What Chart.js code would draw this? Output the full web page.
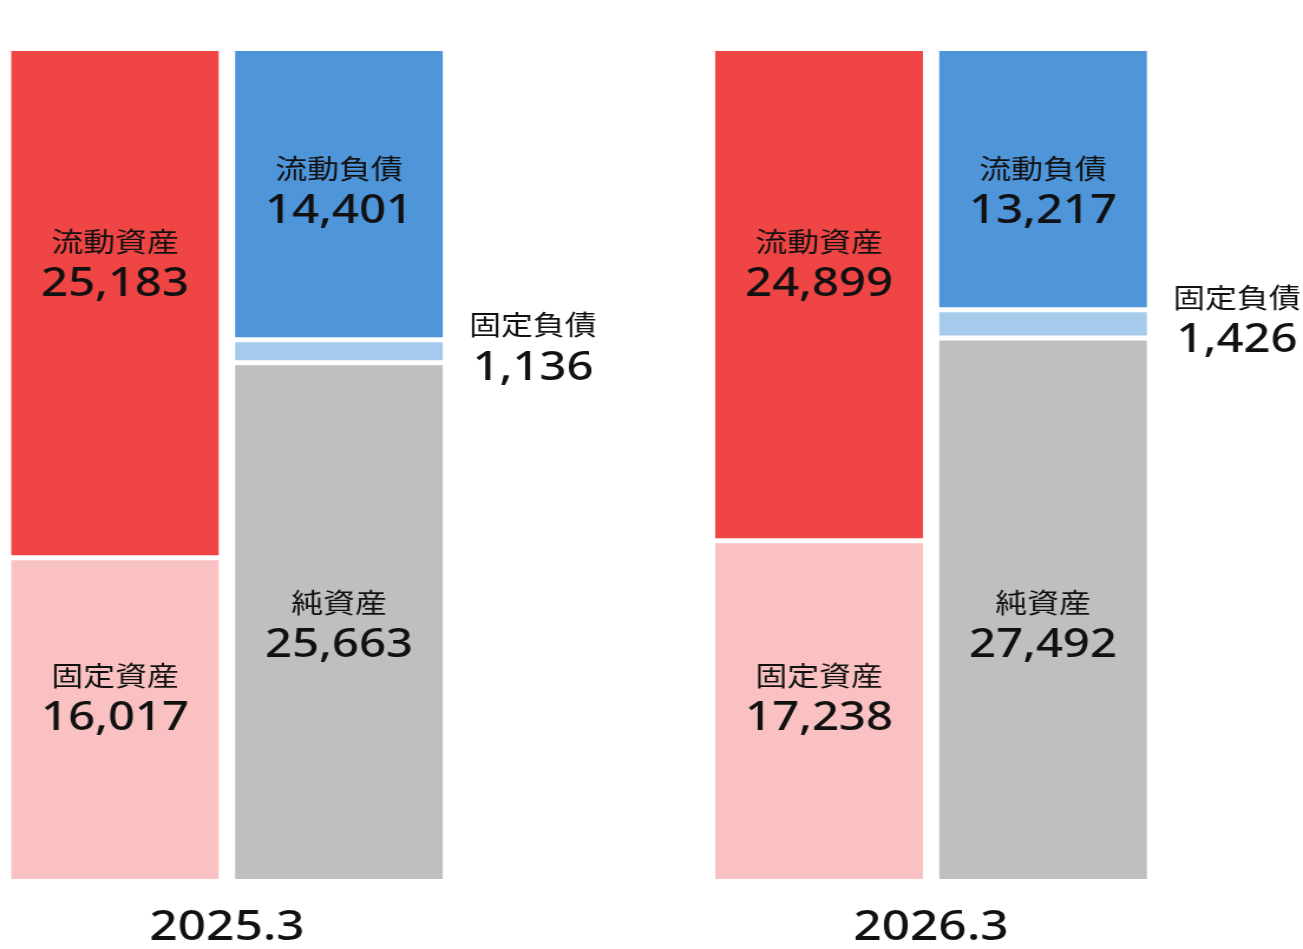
<!DOCTYPE html>
<html>
<head>
<meta charset="utf-8">
<title>貸借対照表</title>
<script src="https://cdn.jsdelivr.net/npm/chart.js"></script>
<style>
  html, body { margin: 0; padding: 0; background: #fff; overflow: hidden; }
</style>
</head>
<body>
<canvas id="bs" width="1104" height="974" style="display:block;width:1303px;height:974px"></canvas>
<script>
/*******************************************************/
/* datos (百万円) */
var periodos = ['2025.3', '2026.3'];

var activo_corriente = [25183, 24899];   // 流動資産
var activo_fijo = [16017, 17238];        // 固定資産
var pasivo_corriente = [14401, 13217];   // 流動負債
var pasivo_fijo = [1136, 1426];          // 固定負債
var patrimonio = [25663, 27492];         // 純資産

/*******************************************************/
// el grafico original esta estirado en horizontal
var estirar = 1303 / 1104;

var colores = {
	activo_corriente: '#F04545',
	activo_fijo: '#F9C1C1',
	pasivo_corriente: '#4F95D9',
	pasivo_fijo: '#A6CAEC',
	patrimonio: '#BFBFBF'
};

var fuente_numero = '500 40px "Noto Sans", "Noto Sans CJK JP", sans-serif';
var fuente_nombre = '27px "Noto Sans CJK JP", sans-serif';

// cada columna se dibuja al 100%
function porcentaje(serie, totales) {
	return serie.map(function (v, i) {
		return { x: i, y: v / totales[i] * 100, valor: v };
	});
}

var total_activo = periodos.map(function (p, i) {
	return activo_corriente[i] + activo_fijo[i];
});
var total_pasivo = periodos.map(function (p, i) {
	return pasivo_corriente[i] + pasivo_fijo[i] + patrimonio[i];
});

function serie(nombre, datos, totales, color, pila, ancla, afuera) {
	return {
		label: nombre,
		data: porcentaje(datos, totales),
		backgroundColor: color,
		borderColor: '#ffffff',
		borderWidth: { top: 2.5, bottom: 2.5, left: 0, right: 0 },
		borderSkipped: false,
		stack: pila,
		ancla: ancla,      // altura fija del texto (en % del eje)
		afuera: afuera     // texto a la derecha de la barra
	};
}

/*******************************************************/
// textos dentro / al lado de cada bloque
var plugin_textos = {
	id: 'textos',
	afterDatasetsDraw: function (chart) {
		var ctx = chart.ctx;
		var escala_y = chart.scales.y;
		ctx.save();
		ctx.fillStyle = '#111111';
		ctx.textAlign = 'center';
		ctx.textBaseline = 'middle';
		chart.data.datasets.forEach(function (ds, d) {
			var meta = chart.getDatasetMeta(d);
			meta.data.forEach(function (barra, i) {
				var x = barra.x;
				var centro;
				if (ds.afuera) {
					x = barra.x + barra.width / 2 + 90 / estirar;
					centro = (barra.y + barra.base) / 2 - 5;
				} else {
					centro = escala_y.getPixelForValue(ds.ancla);
				}
				ctx.font = fuente_nombre;
				ctx.fillText(ds.label, x, centro - 21);
				ctx.font = fuente_numero;
				ctx.fillText(ds.data[i].valor.toLocaleString('en-US'), x, centro + 22);
			});
		});
		ctx.restore();
	}
};

/*******************************************************/
var configuracion = {
	type: 'bar',
	data: {
		datasets: [
			serie('固定資産', activo_fijo, total_activo, colores.activo_fijo, 'activo', 22.2, false),
			serie('流動資産', activo_corriente, total_activo, colores.activo_corriente, 'activo', 74.3, false),
			serie('純資産', patrimonio, total_pasivo, colores.patrimonio, 'pasivo', 30.9, false),
			serie('固定負債', pasivo_fijo, total_pasivo, colores.pasivo_fijo, 'pasivo', null, true),
			serie('流動負債', pasivo_corriente, total_pasivo, colores.pasivo_corriente, 'pasivo', 83.1, false)
		]
	},
	options: {
		responsive: false,
		animation: false,
		devicePixelRatio: 1,
		categoryPercentage: 448 / 704,
		barPercentage: 208 / 224,
		layout: { padding: { top: 48.5, left: 0, right: 0, bottom: 0 } },
		plugins: {
			legend: { display: false },
			tooltip: { enabled: false },
			title: { display: false }
		},
		scales: {
			x: {
				type: 'linear',
				offset: false,
				min: -227 / 704,
				max: 1 + 372 / 704,
				grid: { display: false, drawTicks: false },
				border: { display: false },
				afterBuildTicks: function (escala) {
					escala.ticks = periodos.map(function (p, i) { return { value: i }; });
				},
				ticks: {
					padding: 21.05,
					color: '#111111',
					font: { family: '"Noto Sans", "Noto Sans CJK JP", sans-serif', size: 42, weight: 500 },
					callback: function (v) { return periodos[v]; }
				}
			},
			y: {
				display: false,
				stacked: true,
				min: 0,
				max: 100
			}
		}
	},
	plugins: [plugin_textos]
};

var mi_grafico = new Chart(document.getElementById('bs').getContext('2d'), configuracion);
</script>
</body>
</html>
